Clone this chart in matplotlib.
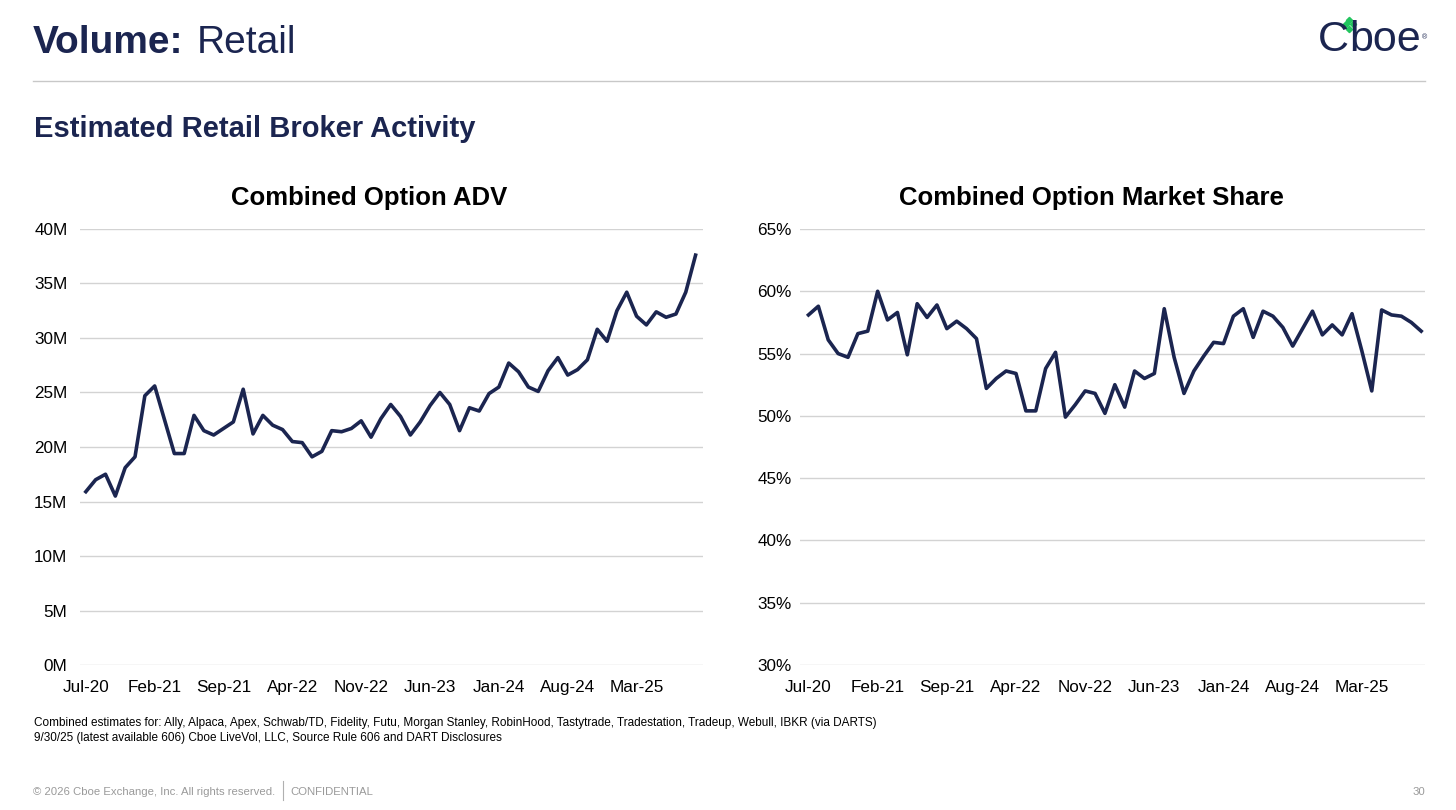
import matplotlib.pyplot as plt
from matplotlib.lines import Line2D

plt.rcParams['font.family'] = ['Liberation Sans', 'DejaVu Sans']

NAVY = '#1b2550'
GRID = '#d3d3d3'

# monthly values, Jul-20 .. Sep-25
adv_m = [15.9, 17.0, 17.5, 15.5, 18.1, 19.1, 24.7, 25.6, 22.5, 19.4,
         19.4, 22.9, 21.5, 21.1, 21.7, 22.3, 25.3, 21.2, 22.9, 22.0,
         21.6, 20.5, 20.4, 19.1, 19.6, 21.5, 21.4, 21.7, 22.4, 20.9,
         22.6, 23.9, 22.8, 21.1, 22.3, 23.8, 25.0, 23.9, 21.5, 23.6,
         23.3, 24.9, 25.5, 27.7, 26.9, 25.5, 25.1, 27.0, 28.2, 26.6,
         27.1, 28.0, 30.8, 29.7, 32.5, 34.2, 32.0, 31.2, 32.4, 31.9,
         32.2, 34.2, 37.6]

share_pct = [58.1, 58.8, 56.1, 55.0, 54.7, 56.6, 56.8, 60.0, 57.7, 58.3,
             54.9, 59.0, 57.9, 58.9, 57.0, 57.6, 57.0, 56.2, 52.2, 53.0,
             53.6, 53.4, 50.4, 50.4, 53.8, 55.1, 49.9, 50.9, 52.0, 51.8,
             50.2, 52.5, 50.7, 53.6, 53.0, 53.4, 58.6, 54.7, 51.8, 53.6,
             54.8, 55.9, 55.8, 58.0, 58.6, 56.3, 58.4, 58.0, 57.1, 55.6,
             57.0, 58.4, 56.5, 57.3, 56.5, 58.2, 55.2, 52.0, 58.5, 58.1,
             58.0, 57.5, 56.8]

month_labels = ['Jul-20', 'Feb-21', 'Sep-21', 'Apr-22', 'Nov-22',
                'Jun-23', 'Jan-24', 'Aug-24', 'Mar-25']
label_step = 7

adv_ticks = [0, 5, 10, 15, 20, 25, 30, 35, 40]
share_ticks = [30, 35, 40, 45, 50, 55, 60, 65]


def style_axis(ax, values, yticks, ylabels, xlim, ypad):
    x = list(range(len(values)))
    ax.plot(x, values, color=NAVY, linewidth=2.6, solid_joinstyle='round')
    ax.set_xlim(*xlim)
    ax.set_ylim(yticks[0], yticks[-1])
    ax.set_yticks(yticks)
    ax.set_yticklabels(ylabels)
    ax.set_xticks(list(range(0, len(values), label_step)))
    ax.set_xticklabels(month_labels)
    ax.grid(axis='y', color=GRID, linewidth=1.0)
    ax.set_axisbelow(True)
    for s in ax.spines.values():
        s.set_visible(False)
    ax.tick_params(length=0, labelsize=12.3, colors='black')
    ax.tick_params(axis='y', pad=ypad)
    ax.tick_params(axis='x', pad=10.5)


fig = plt.figure(figsize=(14.56, 8.10), dpi=100)

ax1 = fig.add_axes([0.0549, 0.1790, 0.4279, 0.5383])
style_axis(ax1, adv_m, adv_ticks, [f'{t}M' for t in adv_ticks],
           (-0.6, 62.75), 9)

ax2 = fig.add_axes([0.5495, 0.1790, 0.4293, 0.5383])
style_axis(ax2, share_pct, share_ticks, [f'{t}%' for t in share_ticks],
           (-0.85, 62.4), 6)

# chart titles
fig.text(369 / 1456, 1 - 198 / 810, 'Combined Option ADV', fontsize=18.5,
         fontweight='bold', ha='center', va='center')
fig.text(1091 / 1456, 1 - 198 / 810, 'Combined Option Market Share',
         fontsize=18.5, fontweight='bold', ha='center', va='center')

# header
fig.text(0.0227, 0.935, 'Volume:', fontsize=28, fontweight='bold', color=NAVY,
         va='baseline')
fig.text(0.135, 0.935, 'Retail', fontsize=28, color=NAVY, va='baseline')
fig.add_artist(Line2D([0.0227, 0.979], [0.9, 0.9], color='#c8c8c8',
                      linewidth=1.0, transform=fig.transFigure))
fig.text(0.0235, 0.831, 'Estimated Retail Broker Activity', fontsize=21,
         fontweight='bold', color=NAVY, va='baseline')

# logo
fig.text(1318 / 1456, 0.937, 'C', fontsize=31, color=NAVY, ha='left',
         va='baseline')
fig.text(1421 / 1456, 0.937, 'boe', fontsize=31, color=NAVY, ha='right',
         va='baseline')
fig.text(1422 / 1456, 0.952, '®', fontsize=5, color=NAVY, ha='left')
for dx, dy in [(0, 4.5), (3.5, 0), (-3.5, 0), (0, -4.5)]:
    fig.add_artist(Line2D([(1349 + dx) / 1456], [1 - (24 + dy) / 810],
                          marker='D', markersize=3.2, color='#22c55e',
                          linewidth=0, transform=fig.transFigure))

# notes
fig.text(0.0235, 0.104, 'Combined estimates for: Ally, Alpaca, Apex, Schwab/TD, '
         'Fidelity, Futu, Morgan Stanley, RobinHood, Tastytrade, Tradestation, '
         'Tradeup, Webull, IBKR (via DARTS)', fontsize=8.5, color='black')
fig.text(0.0235, 0.085, '9/30/25 (latest available 606) Cboe LiveVol, LLC, '
         'Source Rule 606 and DART Disclosures', fontsize=8.5, color='black')

# footer
fig.text(0.0227, 0.018, '© 2026 Cboe Exchange, Inc. All rights reserved.',
         fontsize=8.2, color='#9a9a9a')
fig.add_artist(Line2D([283 / 1456, 283 / 1456], [0.012, 0.036],
                      color='#b0b0b0', linewidth=0.8,
                      transform=fig.transFigure))
fig.text(290 / 1456, 0.018, 'CONFIDENTIAL', fontsize=8.2, color='#9a9a9a')
fig.text(0.979, 0.018, '30', fontsize=8.2, color='#9a9a9a', ha='right')

fig.savefig('out.png', dpi=100, facecolor='white')
